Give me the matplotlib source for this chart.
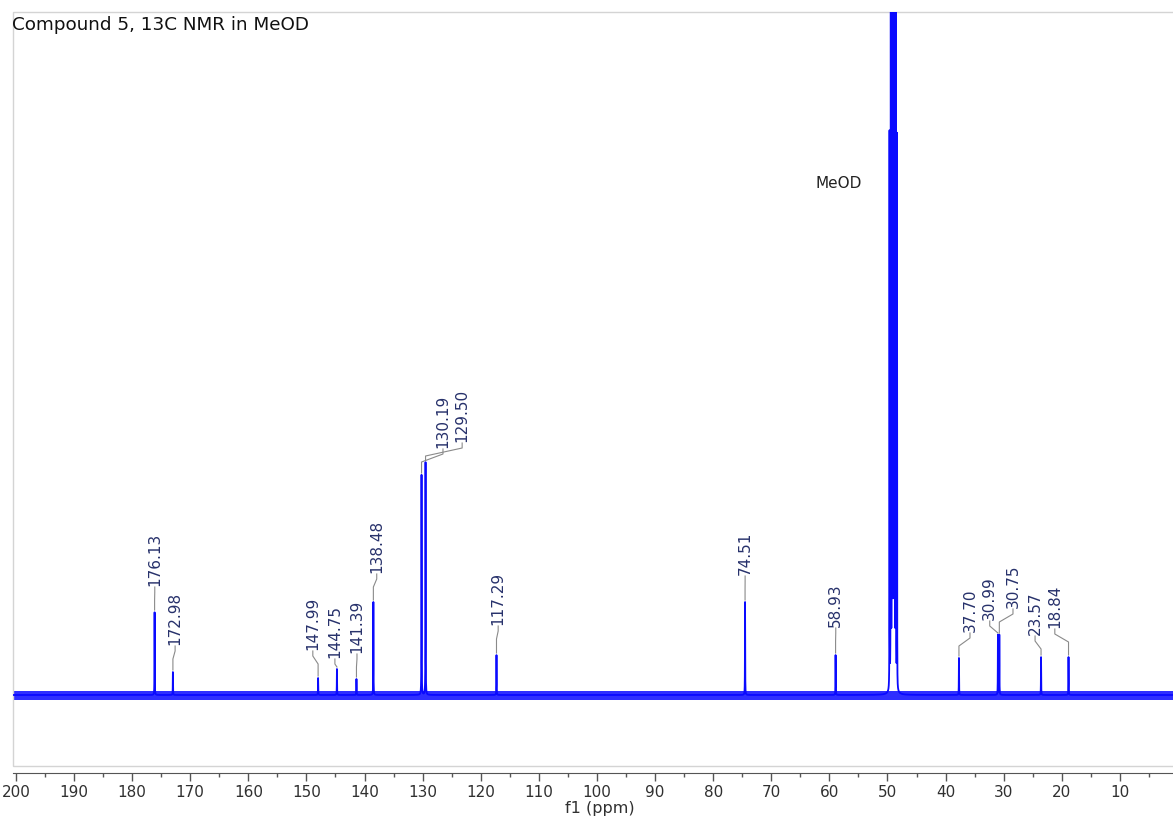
import numpy as np
import matplotlib.pyplot as plt
from matplotlib.patches import Rectangle

# 13C peak list (ppm) and peak heights (baseline = 0)
shifts = [176.13, 172.98, 147.99, 144.75, 141.39, 138.48, 130.19, 129.50,
          117.29, 74.51, 58.93, 37.70, 30.99, 30.75, 23.57, 18.84]
heights = [83, 23, 17, 26, 16, 93, 220, 233, 40, 93, 40, 37, 60, 60, 38, 38]

# where each peak label sits (ppm, height of the label foot)
label_ppm = [176.1, 172.6, 148.9, 145.1, 141.3, 137.9, 126.5, 123.2,
             117.0, 74.5, 58.9, 35.8, 32.4, 28.4, 24.6, 21.2]
label_y = [109, 50, 45, 37, 42, 122, 247, 253, 70, 120, 68, 63, 75, 87, 60, 67]

# MeOD solvent septet
meod_center = 49.00
meod_j = 0.215
meod_heights = [555, 1665, 3330, 3885, 3330, 1665, 555]

blue = '#0a0aff'

ppm = np.linspace(200.5, 0.8, 80000)
spec = np.zeros_like(ppm)


def lorentz(x, x0, h, w):
    return h * w**2 / ((x - x0)**2 + w**2)


for s, h in zip(shifts, heights):
    spec += lorentz(ppm, s, h, 0.02)
for k, h in enumerate(meod_heights):
    spec += lorentz(ppm, meod_center + (k - 3) * meod_j, h, 0.012)

fig = plt.figure(figsize=(11.73, 8.24), dpi=100)
ax = fig.add_axes([13 / 1173, 1 - 766 / 824, 1160 / 1173, 754 / 824])

ax.axhspan(-5, 4.5, color=blue, lw=0, alpha=0.85)
ax.plot(ppm, spec, color=blue, lw=1.3)

ax.set_xlim(200.5, 0.86)
ax.set_ylim(-71, 683)

# light frame round the spectrum, separate ppm axis below it
for side in ['top', 'right', 'left']:
    ax.spines[side].set_visible(False)
ax.add_patch(Rectangle((0, 0), 1.05, 1, transform=ax.transAxes, fill=False,
                       ec='#d4d4d4', lw=1, clip_on=False))
ax.spines['bottom'].set_position(('outward', 5))
ax.spines['bottom'].set_color('#555555')
ax.set_yticks([])
ax.set_xticks(np.arange(200, 9, -10))
ax.set_xticks(np.arange(195, 4, -10), minor=True)
ax.tick_params(axis='x', which='major', length=6, width=1, color='#555555',
               labelsize=11, labelcolor='#303030', pad=3)
ax.tick_params(axis='x', which='minor', length=3, width=1, color='#555555')
ax.set_xlabel('f1 (ppm)', fontsize=11.5, color='#303030')
ax.xaxis.set_label_coords((600 - 13) / 1160, -(808 - 766) / 754)
ax.xaxis.label.set_va('center')

# peak labels with their leader lines
for s, h, lx, ly in zip(shifts, heights, label_ppm, label_y):
    ax.text(lx, ly, f'{s:.2f}', rotation=90, ha='center', va='bottom',
            fontsize=11, color='#27316b')
    elbow = max(ly - 14, h + 2)
    ax.plot([lx, lx, s, s], [ly - 1, ly - 6, elbow, h + 2],
            color='#8a8a8a', lw=0.8)

ax.text(839 / 1173, 1 - 183 / 824, 'MeOD', transform=fig.transFigure,
        ha='center', va='center', fontsize=11, color='#222222')
fig.text(12 / 1173, 1 - 25 / 824, 'Compound 5, 13C NMR in MeOD',
         ha='left', va='center', fontsize=13.2, color='#111111')

fig.savefig('out.png', dpi=100)
